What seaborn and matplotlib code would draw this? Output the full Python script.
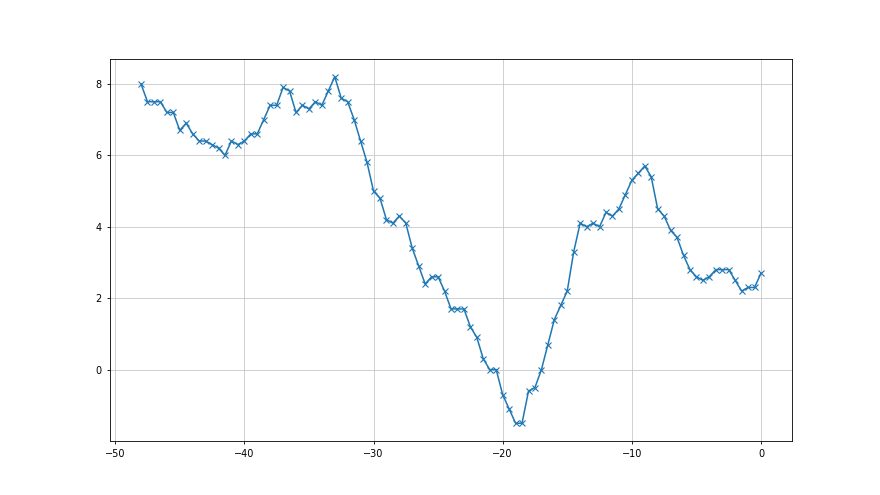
# Imports:
import matplotlib
matplotlib.use("Agg")
import matplotlib.pyplot as plt
import pandas as pd
import seaborn as sns

# Data:
x_values = [
    -48.0, -47.5, -47.0, -46.5, -46.0, -45.5, -45.0, -44.5, -44.0, -43.5,
    -43.0, -42.5, -42.0, -41.5, -41.0, -40.5, -40.0, -39.5, -39.0, -38.5,
    -38.0, -37.5, -37.0, -36.5, -36.0, -35.5, -35.0, -34.5, -34.0, -33.5,
    -33.0, -32.5, -32.0, -31.5, -31.0, -30.5, -30.0, -29.5, -29.0, -28.5,
    -28.0, -27.5, -27.0, -26.5, -26.0, -25.5, -25.0, -24.5, -24.0, -23.5,
    -23.0, -22.5, -22.0, -21.5, -21.0, -20.5, -20.0, -19.5, -19.0, -18.5,
    -18.0, -17.5, -17.0, -16.5, -16.0, -15.5, -15.0, -14.5, -14.0, -13.5,
    -13.0, -12.5, -12.0, -11.5, -11.0, -10.5, -10.0, -9.5, -9.0, -8.5,
    -8.0, -7.5, -7.0, -6.5, -6.0, -5.5, -5.0, -4.5, -4.0, -3.5,
    -3.0, -2.5, -2.0, -1.5, -1.0, -0.5, 0.0,
]

y_values = [
    8.0, 7.5, 7.5, 7.5, 7.2, 7.2, 6.7, 6.9, 6.6, 6.4,
    6.4, 6.3, 6.2, 6.0, 6.4, 6.3, 6.4, 6.6, 6.6, 7.0,
    7.4, 7.4, 7.9, 7.8, 7.2, 7.4, 7.3, 7.5, 7.4, 7.8,
    8.2, 7.6, 7.5, 7.0, 6.4, 5.8, 5.0, 4.8, 4.2, 4.1,
    4.3, 4.1, 3.4, 2.9, 2.4, 2.6, 2.6, 2.2, 1.7, 1.7,
    1.7, 1.2, 0.9, 0.3, 0.0, 0.0, -0.7, -1.1, -1.5, -1.5,
    -0.6, -0.5, 0.0, 0.7, 1.4, 1.8, 2.2, 3.3, 4.1, 4.0,
    4.1, 4.0, 4.4, 4.3, 4.5, 4.9, 5.3, 5.5, 5.7, 5.4,
    4.5, 4.3, 3.9, 3.7, 3.2, 2.8, 2.6, 2.5, 2.6, 2.8,
    2.8, 2.8, 2.5, 2.2, 2.3, 2.3, 2.7,
]

# Dataframe:
dataframe = pd.DataFrame({"x": x_values, "y": y_values})

# Figure:
fig, ax = plt.subplots(figsize=(8.8, 4.95), dpi=100)

# Line:
sns.lineplot(
    data=dataframe,
    x="x",
    y="y",
    marker="x",
    markersize=4,
    markeredgewidth=0.8,
    markeredgecolor="#1f77b4",
    linewidth=1.1,
    color="#1f77b4",
    ax=ax,
)

# Grid:
ax.grid(True, color="#c8c8c8", linewidth=0.6)

# Labels:
ax.set_xlabel("")
ax.set_ylabel("")
ax.tick_params(labelsize=7, length=2.5, width=0.6)
for spine in ax.spines.values():
    spine.set_linewidth(0.6)

# Save:
fig.savefig("out.png", dpi=100)
